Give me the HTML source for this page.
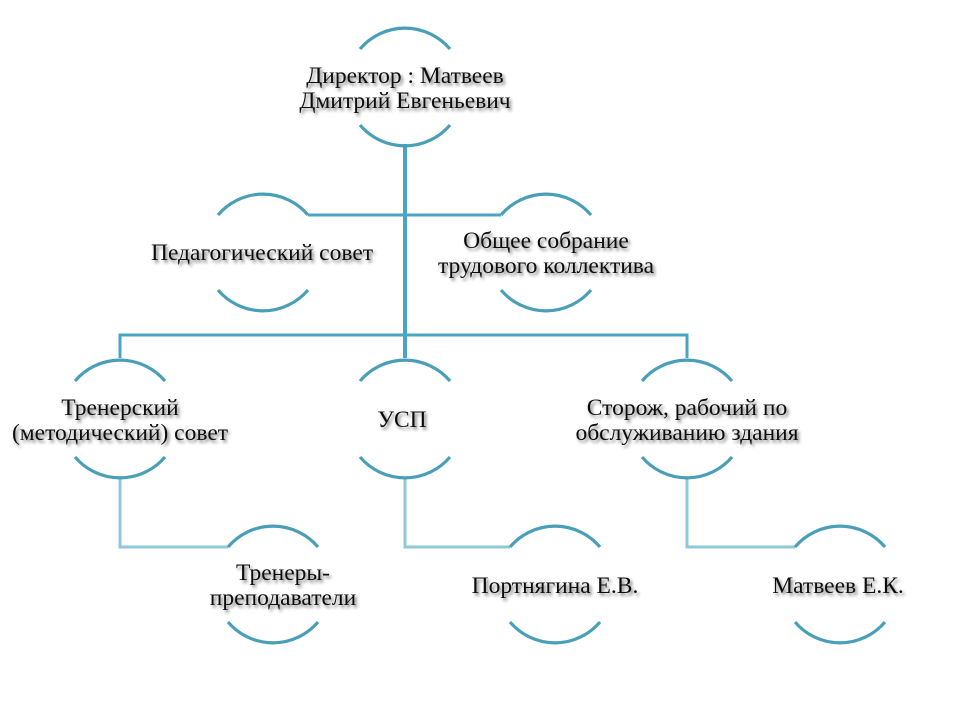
<!DOCTYPE html>
<html><head><meta charset="utf-8"><style>
html,body{margin:0;padding:0;background:#fff;}
svg{display:block;}
text{font-family:"Liberation Serif",serif;font-size:23.5px;fill:#111;text-anchor:middle;filter:url(#sh);}
</style></head><body>
<svg width="960" height="720" viewBox="0 0 960 720" xmlns="http://www.w3.org/2000/svg">
<defs>
<filter id="sh" x="-20%" y="-50%" width="140%" height="200%">
<feGaussianBlur in="SourceAlpha" stdDeviation="1.6"/>
<feOffset dx="2" dy="2.5" result="b"/>
<feComponentTransfer><feFuncA type="linear" slope="0.55"/></feComponentTransfer>
<feMerge><feMergeNode/><feMergeNode in="SourceGraphic"/></feMerge>
</filter>
</defs>
<g fill="none" stroke-linecap="butt">
<path d="M405 144 V358" stroke="#4aa5c4" stroke-width="4"/>
<path d="M308 215 H501" stroke="#4aa5c4" stroke-width="3"/>
<path d="M120 358 V335 H687 V358" stroke="#4aa5c4" stroke-width="3"/>
<path d="M120 478 V547 H228" stroke="#8fc8d8" stroke-width="3"/>
<path d="M405 478 V547 H510" stroke="#8fc8d8" stroke-width="3"/>
<path d="M687 478 V547 H795" stroke="#8fc8d8" stroke-width="3"/>
</g>
<g fill="none" stroke="#4a9fb8" stroke-width="3.2">
<path d="M360 49 A59 59 0 0 1 450 49 M360 125 A59 59 0 0 0 450 125"/>
<path d="M218 215 A59 59 0 0 1 308 215 M218 290 A59 59 0 0 0 308 290"/>
<path d="M501 215 A59 59 0 0 1 591 215 M501 290 A59 59 0 0 0 591 290"/>
<path d="M75 381 A59 59 0 0 1 165 381 M75 457 A59 59 0 0 0 165 457"/>
<path d="M360 381 A59 59 0 0 1 450 381 M360 457 A59 59 0 0 0 450 457"/>
<path d="M642 381 A59 59 0 0 1 732 381 M642 457 A59 59 0 0 0 732 457"/>
<path d="M228 547 A59 59 0 0 1 318 547 M228 622 A59 59 0 0 0 318 622"/>
<path d="M510 547 A59 59 0 0 1 600 547 M510 622 A59 59 0 0 0 600 622"/>
<path d="M795 547 A59 59 0 0 1 885 547 M795 622 A59 59 0 0 0 885 622"/>
</g>
<text x="405" y="83">Директор : Матвеев</text>
<text x="405" y="108">Дмитрий Евгеньевич</text>
<text x="262" y="260">Педагогический совет</text>
<text x="546" y="248">Общее собрание</text>
<text x="546" y="273">трудового  коллектива</text>
<text x="120" y="415">Тренерский</text>
<text x="120" y="440">(методический) совет</text>
<text x="402" y="427">УСП</text>
<text x="687" y="415">Сторож, рабочий по</text>
<text x="687" y="440">обслуживанию здания</text>
<text x="283" y="580">Тренеры-</text>
<text x="283" y="605">преподаватели</text>
<text x="555" y="593">Портнягина Е.В.</text>
<text x="838" y="593">Матвеев Е.К.</text>
</svg>
</body></html>
